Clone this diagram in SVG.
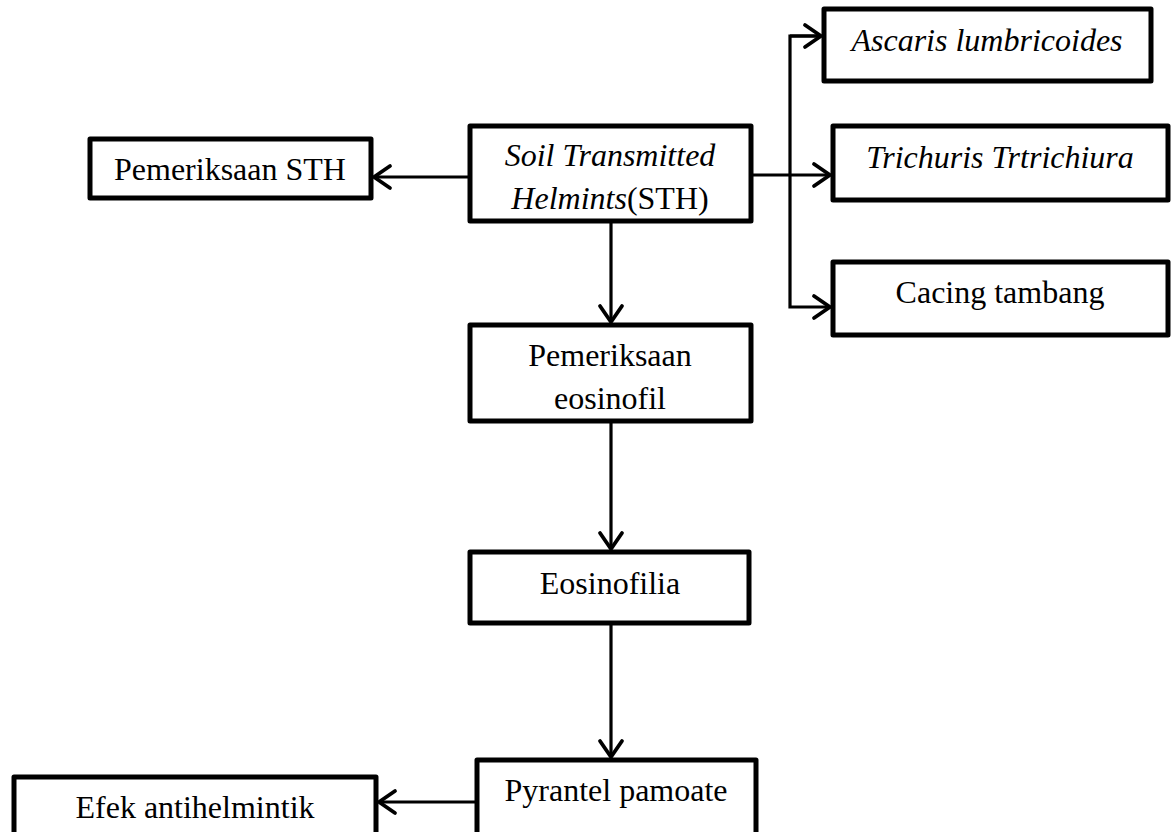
<svg xmlns="http://www.w3.org/2000/svg" width="1173" height="832" viewBox="0 0 1173 832">
<defs>
<style>
.box{fill:#fff;stroke:#000;stroke-width:5;stroke-linejoin:round}
.t{font-family:"Liberation Serif","Times New Roman",serif;font-size:32px;fill:#000;text-anchor:middle}
.i{font-style:italic}
.c{fill:none;stroke:#000;stroke-width:3.2}
</style>
<marker id="ah" markerUnits="userSpaceOnUse" markerWidth="24" markerHeight="28" viewBox="0 0 24 28" refX="20" refY="14" orient="auto">
<path d="M4,3 L20,14 L4,25" fill="none" stroke="#000" stroke-width="3.8" stroke-linecap="round" stroke-linejoin="round"/>
</marker>
</defs>
<rect width="1173" height="832" fill="#fff"/>
<g id="connectors">
<line class="c" x1="468" y1="177" x2="374" y2="177" marker-end="url(#ah)"/>
<line class="c" x1="753" y1="175" x2="830" y2="175" marker-end="url(#ah)"/>
<polyline class="c" points="821,36 790,36 790,307 830,307" marker-end="url(#ah)"/>
<line class="c" x1="790" y1="36" x2="821" y2="36" marker-end="url(#ah)"/>
<line class="c" x1="611" y1="223" x2="611" y2="322" marker-end="url(#ah)"/>
<line class="c" x1="611" y1="423" x2="611" y2="549" marker-end="url(#ah)"/>
<line class="c" x1="611" y1="625" x2="611" y2="757" marker-end="url(#ah)"/>
<line class="c" x1="475" y1="802" x2="379" y2="802" marker-end="url(#ah)"/>
</g>
<g id="n-pemeriksaan-sth">
<rect class="box" x="90" y="139" width="281" height="59"/>
<text class="t" x="230" y="180">Pemeriksaan STH</text>
</g>
<g id="n-sth">
<rect class="box" x="470" y="126" width="281" height="95"/>
<text class="t" x="610" y="166"><tspan class="i">Soil Transmitted</tspan></text>
<text class="t" x="610" y="209"><tspan class="i">Helmints</tspan>(STH)</text>
</g>
<g id="n-ascaris">
<rect class="box" x="824" y="9" width="327" height="72"/>
<text class="t i" x="987" y="51">Ascaris lumbricoides</text>
</g>
<g id="n-trichuris">
<rect class="box" x="833" y="126" width="335" height="74"/>
<text class="t i" x="1000" y="168">Trichuris Trtrichiura</text>
</g>
<g id="n-cacing">
<rect class="box" x="833" y="262" width="335" height="73"/>
<text class="t" x="1000" y="303">Cacing tambang</text>
</g>
<g id="n-eosinofil">
<rect class="box" x="470" y="325" width="281" height="96"/>
<text class="t" x="610" y="366">Pemeriksaan</text>
<text class="t" x="610" y="409">eosinofil</text>
</g>
<g id="n-eosinofilia">
<rect class="box" x="470" y="552" width="279" height="71"/>
<text class="t" x="610" y="594">Eosinofilia</text>
</g>
<g id="n-pyrantel">
<rect class="box" x="477" y="760" width="279" height="80"/>
<text class="t" x="616" y="801">Pyrantel pamoate</text>
</g>
<g id="n-efek">
<rect class="box" x="14" y="777" width="362" height="70"/>
<text class="t" x="195" y="818">Efek antihelmintik</text>
</g>
</svg>
